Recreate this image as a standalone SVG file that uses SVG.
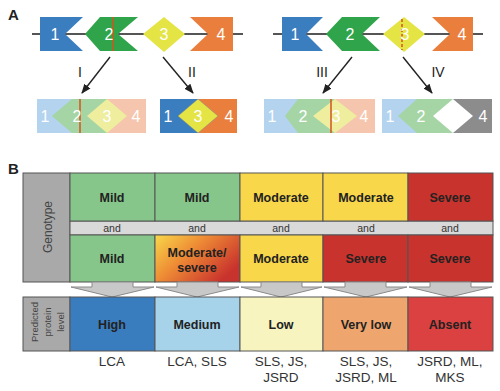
<svg xmlns="http://www.w3.org/2000/svg" width="500" height="391" viewBox="0 0 500 391">
<defs>
<style>
.lbl{font-family:"Liberation Sans",Arial,sans-serif;font-size:16px;fill:#fff;text-anchor:middle}
.rn{font-family:"Liberation Sans",Arial,sans-serif;font-size:14px;fill:#222;text-anchor:middle}
.pn{font-family:"Liberation Sans",Arial,sans-serif;font-size:15px;font-weight:bold;fill:#222}
.cell{stroke:#555;stroke-width:1}
.bt{font-family:"Liberation Sans",Arial,sans-serif;font-size:12.5px;font-weight:bold;fill:#222;text-anchor:middle}
.and{font-family:"Liberation Sans",Arial,sans-serif;font-size:10.5px;fill:#333;text-anchor:middle}
.side{font-family:"Liberation Sans",Arial,sans-serif;font-size:12px;fill:#444;text-anchor:middle}
.side2{font-family:"Liberation Sans",Arial,sans-serif;font-size:9.5px;fill:#444;text-anchor:middle}
.dis{font-family:"Liberation Sans",Arial,sans-serif;font-size:13.5px;fill:#333;text-anchor:middle}
.conn{stroke:#222;stroke-width:1.4;fill:none}
.down{fill:#c8c8c8;stroke:#8a8a8a;stroke-width:1}
</style>
<marker id="ah" viewBox="0 0 10 10" refX="9" refY="5" markerWidth="7" markerHeight="7" orient="auto">
<path d="M0,1 L10,5 L0,9 z" fill="#222"/>
</marker>
<linearGradient id="ms" x1="0" y1="0" x2="1" y2="0.6">
<stop offset="0" stop-color="#f8d84a"/>
<stop offset="0.45" stop-color="#ee8c35"/>
<stop offset="1" stop-color="#c9332d"/>
</linearGradient>
</defs>
<rect width="500" height="391" fill="#fff"/>
<text class="pn" x="8" y="20">A</text>
<text class="pn" x="8" y="174">B</text>

<!-- Panel A, top rows -->
<g id="lineL"><line x1="32" y1="34" x2="243" y2="34" stroke="#555" stroke-width="2"/></g>
<g id="lineR"><line x1="273" y1="34" x2="483" y2="34" stroke="#555" stroke-width="2"/></g>

<g id="L1"><polygon points="40,17 83,17 65,34 83,51 40,51" fill="#3b7ec0"/><text class="lbl" x="55" y="40">1</text></g>
<g id="L2"><polygon points="85,34 100,17 138,17 118,34 138,51 100,51" fill="#30a44a"/><line x1="113" y1="17" x2="113" y2="51" stroke="#d2531e" stroke-width="1.5"/><text class="lbl" x="109" y="40">2</text></g>
<g id="L3"><polygon points="143,34 164,17 185,34 164,52" fill="#e4e545"/><text class="lbl" x="164" y="40">3</text></g>
<g id="L4"><polygon points="190,17 233,17 233,51 190,51 208,34" fill="#ea7f3d"/><text class="lbl" x="221" y="40">4</text></g>

<g id="R1"><polygon points="282,17 323,17 306,34 323,51 282,51" fill="#3b7ec0"/><text class="lbl" x="295" y="40">1</text></g>
<g id="R2"><polygon points="326,34 342,17 380,17 362,34 380,51 342,51" fill="#30a44a"/><text class="lbl" x="350" y="40">2</text></g>
<g id="R3"><polygon points="383,34 404,17 425,34 404,52" fill="#e4e545"/><line x1="402" y1="19" x2="402" y2="50" stroke="#d2531e" stroke-width="1.5" stroke-dasharray="3,2"/><text class="lbl" x="405" y="40">3</text></g>
<g id="R4"><polygon points="432,17 473,17 473,51 432,51 450,34" fill="#ea7f3d"/><text class="lbl" x="462" y="40">4</text></g>

<!-- Panel A, results -->
<g id="resI">
<rect x="37" y="99" width="36" height="34" fill="#b3d3ee"/>
<polygon points="52,116 72,99 108,99 108,133 72,133" fill="#a6d5a5"/>
<rect x="108" y="99" width="38" height="34" fill="#f5c6ad"/>
<polygon points="87,116 107,99 127,116 107,133" fill="#eeee9e"/>
<line x1="80" y1="99" x2="80" y2="133" stroke="#d2531e" stroke-width="1.5"/>
<text class="lbl" x="45" y="122">1</text><text class="lbl" x="77" y="122">2</text><text class="lbl" x="107" y="122">3</text><text class="lbl" x="136" y="122">4</text>
</g>
<g id="resII">
<rect x="160" y="99" width="39" height="34" fill="#3b7ec0"/>
<rect x="199" y="99" width="38" height="34" fill="#ea7f3d"/>
<polygon points="178,116 198,99 218,116 198,133" fill="#e4e545" stroke="#888" stroke-width="0.5"/>
<text class="lbl" x="168" y="122">1</text><text class="lbl" x="198" y="122">3</text><text class="lbl" x="229" y="122">4</text>
</g>
<g id="resIII">
<rect x="264" y="99" width="34" height="34" fill="#b3d3ee"/>
<polygon points="285,116 298,99 334,99 334,133 298,133" fill="#a6d5a5"/>
<rect x="334" y="99" width="41" height="34" fill="#f5c6ad"/>
<polygon points="313,116 335,99 357,116 335,133" fill="#eeee9e"/>
<line x1="331" y1="99" x2="331" y2="133" stroke="#d2531e" stroke-width="1.5"/>
<text class="lbl" x="272" y="122">1</text><text class="lbl" x="303" y="122">2</text><text class="lbl" x="336" y="122">3</text><text class="lbl" x="364" y="122">4</text>
</g>
<g id="resIV">
<rect x="382" y="99" width="36" height="34" fill="#b3d3ee"/>
<polygon points="398,116 417,99 453,99 453,133 417,133" fill="#a6d5a5"/>
<rect x="453" y="99" width="39" height="34" fill="#8c8c8c"/>
<polygon points="433,116 453,99 473,116 453,133" fill="#fff"/>
<text class="lbl" x="390" y="122">1</text><text class="lbl" x="421" y="122">2</text><text class="lbl" x="483" y="122">4</text>
</g>

<g id="connectors">
<line class="conn" x1="110" y1="57" x2="82" y2="93" marker-end="url(#ah)"/>
<line class="conn" x1="163" y1="57" x2="193" y2="93" marker-end="url(#ah)"/>
<line class="conn" x1="352" y1="57" x2="323" y2="93" marker-end="url(#ah)"/>
<line class="conn" x1="403" y1="57" x2="432" y2="93" marker-end="url(#ah)"/>
<text class="rn" x="80" y="77">I</text>
<text class="rn" x="192" y="77">II</text>
<text class="rn" x="322" y="77">III</text>
<text class="rn" x="438" y="77">IV</text>
</g>

<!-- Panel B -->
<g id="genoLabel">
<rect class="cell" x="23" y="173" width="47" height="109" fill="#a9a9a9"/>
<text class="side" transform="translate(52,227) rotate(-90)">Genotype</text>
</g>
<g id="andRow">
<rect class="cell" x="70" y="221" width="423" height="14" fill="#d9d9d9"/>
<text class="and" x="112" y="232">and</text>
<text class="and" x="197" y="232">and</text>
<text class="and" x="281" y="232">and</text>
<text class="and" x="366" y="232">and</text>
<text class="and" x="450" y="232">and</text>
</g>
<g id="c1">
<rect class="cell" x="70" y="173" width="85" height="48" fill="#86c68a"/><text class="bt" x="112" y="202">Mild</text>
<rect class="cell" x="70" y="235" width="85" height="47" fill="#86c68a"/><text class="bt" x="112" y="263">Mild</text>
</g>
<g id="c2">
<rect class="cell" x="155" y="173" width="85" height="48" fill="#86c68a"/><text class="bt" x="197" y="202">Mild</text>
<rect class="cell" x="155" y="235" width="85" height="47" fill="url(#ms)"/><text class="bt" x="197" y="257">Moderate/</text><text class="bt" x="197" y="272">severe</text>
</g>
<g id="c3">
<rect class="cell" x="240" y="173" width="83" height="48" fill="#f8d84a"/><text class="bt" x="281" y="202">Moderate</text>
<rect class="cell" x="240" y="235" width="83" height="47" fill="#f8d84a"/><text class="bt" x="281" y="263">Moderate</text>
</g>
<g id="c4">
<rect class="cell" x="323" y="173" width="85" height="48" fill="#f8d84a"/><text class="bt" x="366" y="202">Moderate</text>
<rect class="cell" x="323" y="235" width="85" height="47" fill="#c9332d"/><text class="bt" x="366" y="263">Severe</text>
</g>
<g id="c5">
<rect class="cell" x="408" y="173" width="85" height="48" fill="#c9332d"/><text class="bt" x="450" y="202">Severe</text>
<rect class="cell" x="408" y="235" width="85" height="47" fill="#c9332d"/><text class="bt" x="450" y="263">Severe</text>
</g>

<g id="downArrows">
<polygon class="down" points="92,282 133,282 133,287 154,287 112,297 71,287 92,287"/>
<polygon class="down" points="177,282 218,282 218,287 239,287 197,297 156,287 177,287"/>
<polygon class="down" points="261,282 302,282 302,287 322,287 281,297 241,287 261,287"/>
<polygon class="down" points="345,282 386,282 386,287 407,287 366,297 324,287 345,287"/>
<polygon class="down" points="430,282 471,282 471,287 492,287 450,297 409,287 430,287"/>
</g>

<g id="protLabel">
<rect class="cell" x="23" y="297" width="47" height="54" fill="#a9a9a9"/>
<text class="side2" transform="translate(38,322) rotate(-90)">Predicted</text>
<text class="side2" transform="translate(51,322) rotate(-90)">protein</text>
<text class="side2" transform="translate(64,322) rotate(-90)">level</text>
</g>
<g id="p1"><rect class="cell" x="70" y="297" width="85" height="54" fill="#3a7dbf"/><text class="bt" x="112" y="329">High</text></g>
<g id="p2"><rect class="cell" x="155" y="297" width="85" height="54" fill="#a6d3ea"/><text class="bt" x="197" y="329">Medium</text></g>
<g id="p3"><rect class="cell" x="240" y="297" width="83" height="54" fill="#f8f4c0"/><text class="bt" x="281" y="329">Low</text></g>
<g id="p4"><rect class="cell" x="323" y="297" width="85" height="54" fill="#eea66e"/><text class="bt" x="366" y="329">Very low</text></g>
<g id="p5"><rect class="cell" x="408" y="297" width="85" height="54" fill="#da4140"/><text class="bt" x="450" y="329">Absent</text></g>

<g id="diseases">
<text class="dis" x="112" y="366">LCA</text>
<text class="dis" x="197" y="366">LCA, SLS</text>
<text class="dis" x="281" y="366">SLS, JS,</text><text class="dis" x="281" y="382">JSRD</text>
<text class="dis" x="366" y="366">SLS, JS,</text><text class="dis" x="366" y="382">JSRD, ML</text>
<text class="dis" x="450" y="366">JSRD, ML,</text><text class="dis" x="450" y="382">MKS</text>
</g>
</svg>
